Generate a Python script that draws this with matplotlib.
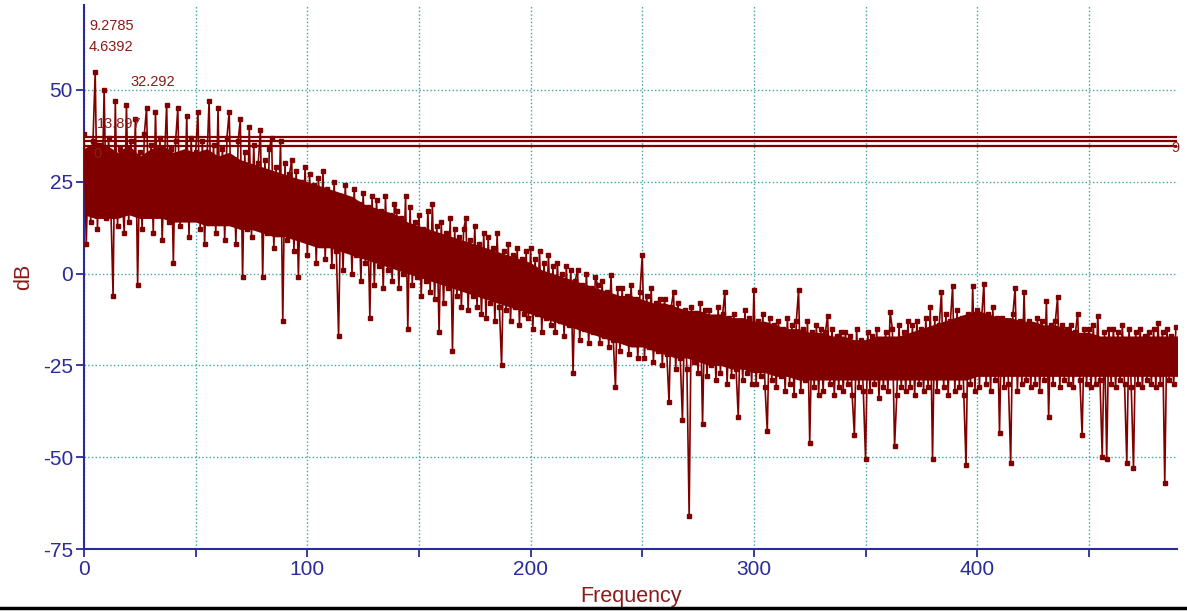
import numpy as np
import matplotlib.pyplot as plt
from matplotlib.lines import Line2D

plt.rcParams['font.family'] = ['Liberation Sans', 'DejaVu Sans']
plt.rcParams['axes.unicode_minus'] = False

# spectrum magnitude in dB, one value per Hz (0..489 Hz)
db_values = [
    38, 8, 33, 14, 36, 55, 12, 35, 20, 50,
    15, 37, 18, -6, 47, 13, 34, 22, 11, 46,
    14, 36, 19, 42, -3, 33, 12, 38, 45, 16,
    35, 11, 44, 17, 37, 9, 31, 46, 14, 34,
    3, 36, 45, 13, 32, 18, 43, 10, 37, 15,
    33, 44, 12, 36, 8, 30, 47, 16, 35, 11,
    45, 14, 34, 9, 37, 44, 17, 31, 8, 36,
    42, -1, 33, 12, 40, 10, 35, 15, 30, 39,
    -1, 31, 11, 34, 37, 7, 29, 14, 36, -13,
    30, 9, 27, 31, 6, 28, -1, 25, 10, 29,
    5, 27, 12, 24, 3, 26, 8, 28, 4, 23,
    22, 2, 25, 6, -17, 21, 1, 24, 7, 20,
    0, 23, 5, 19, -2, 22, 3, 18, -12, 21,
    -3, 20, 2, 17, -4, 21, 1, 16, -2, 19,
    17, -4, 15, 0, 21, -15, 18, -3, 14, -1,
    16, -6, 12, -2, 17, -5, 19, -7, 13, -16,
    14, -8, 11, -4, 15, -21, 12, -6, 10, -9,
    12, 15, -10, 9, -6, 13, -9, 8, -11, 11,
    -12, 10, -8, 7, -13, 11, -9, -25, 6, -10,
    8, -13, 5, -9, 7, -14, 4, -11, 6, -12,
    7, -15, 4, -11, 6, -16, 3, -12, 5, -14,
    2, -16, 3, -13, 0, -17, 2, -14, 1, -27,
    -2, 1, -18, -3, -15, 0, -19, -4, -16, -1,
    -3, -19, -2, -17, -5, -20, -0.5, -18, -31, -4,
    -21, -4, -18, -6, -22, -3, -19, -7, -23, -5,
    5, -23, -6, -20, -4, -24, -8, -21, -7, -25,
    -7, -22, -35, -9, -5, -26, -8, -23, -40, -10,
    -26, -66, -9, -24, -11, -27, -8, -41, -10, -28,
    -10, -25, -12, -29, -9, -27, -11, -5, -30, -12,
    -28, -11, -26, -39, -13, -29, -10, -27, -12, -30,
    -4.6, -30, -13, -28, -11, -31, -43, -12, -29, -14,
    -31, -13, -28, -15, -32, -12, -30, -14, -33, -13,
    -4.6, -32, -15, -29, -13, -46, -16, -31, -14, -33,
    -15, -32, -16, -11.5, -30, -15, -33, -17, -31, -16,
    -32, -16, -30, -17, -33, -44, -15, -31, -18, -32,
    -50.5, -16, -32, -17, -30, -15, -34, -18, -31, -16,
    -32, -10.5, -15, -47, -33, -14, -31, -16, -32, -13,
    -31, -14, -33, -13, -30, -15, -32, -12, -31, -9,
    -50.5, -12, -32, -14, -5, -31, -11, -33, -13, -3.5,
    -32, -10, -31, -12, -33, -52, -11, -30, -3.5, -32,
    -10, -31, -12, -2.8, -30, -11, -32, -9, -29, -12,
    -43.5, -12, -31, -13, -30, -51.5, -11, -4, -32, -13,
    -30, -5, -29, -13, -31, -14, -30, -12, -32, -13,
    -29, -7.5, -39, -14, -30, -13, -6.5, -31, -14, -29,
    -15, -30, -14, -31, -16, -11, -29, -44, -15, -30,
    -15, -31, -14, -30, -11.5, -29, -50, -16, -50.5, -15,
    -30, -15, -31, -16, -29, -14, -30, -51.5, -15, -31,
    -53, -16, -30, -15, -31, -17, -29, -16, -30, -15,
    -31, -13.5, -30, -16, -57, -15, -29, -17, -30, -14.5,
]
freq = np.arange(len(db_values))

# dense core of the trace (where the plotted points overlap into a solid band),
# read every 5 Hz from 0 to 490 Hz
band_freq = np.arange(0, 491, 5)
band_top = [
    34, 36, 35, 33, 35, 32, 34, 35, 33, 34,
    33, 34, 32, 33, 31, 30, 29, 28, 27, 26,
    25, 24, 23, 22, 21, 19, 18, 17, 16, 14,
    13, 12, 11, 10, 9, 8, 7, 6, 5, 4,
    3, 1, 0, -1, -2, -3, -4, -5, -6, -6,
    -7, -8, -8, -9, -10, -10, -11, -11, -12, -12,
    -13, -13, -14, -15, -15, -16, -16, -17, -17, -18,
    -18, -17, -17, -17, -16, -15, -14, -13, -12, -11,
    -10, -11, -12, -12, -13, -13, -14, -14, -15, -16,
    -16, -17, -17, -17, -17, -17, -17, -17, -17,
]
band_bottom = [
    16, 15, 15, 15, 16, 15, 15, 15, 14, 14,
    14, 13, 13, 13, 12, 12, 11, 10, 10, 9,
    8, 7, 7, 6, 5, 4, 3, 2, 1, 0,
    -1, -2, -3, -4, -5, -6, -7, -8, -9, -10,
    -11, -12, -13, -14, -15, -16, -17, -18, -19, -20,
    -20, -21, -22, -23, -23, -24, -25, -25, -26, -26,
    -27, -27, -28, -28, -29, -29, -29, -29, -29, -29,
    -29, -29, -29, -29, -29, -29, -29, -29, -29, -29,
    -28, -28, -28, -28, -28, -28, -28, -28, -28, -28,
    -28, -28, -28, -28, -28, -28, -28, -28, -28,
]

# cursor / reference lines
ref_levels = [37.2, 36.0, 34.8]

# marker labels: (text, freq, dB)
label_texts = ["9.2785", "4.6392", "32.292", "13.897", "0", "9"]
label_freq = [2.2, 2.2, 21.0, 5.8, 4.0, 487.0]
label_db = [67.3, 61.8, 52.2, 40.6, 32.5, 34.3]

maroon = "#800000"
navy = "#2a2a9c"
teal = "#3aa6a6"

fig = plt.figure(figsize=(11.87, 6.12), dpi=100)
ax = fig.add_axes([0.0708, 0.1029, 0.9208, 0.8889])

ax.fill_between(band_freq, band_bottom, band_top, color=maroon, lw=0,
                zorder=2)
ax.plot(freq, db_values, color=maroon, lw=1.2, marker='s', markersize=2.3,
        zorder=3)
for lv in ref_levels:
    ax.axhline(lv, color=maroon, lw=1.6, zorder=4)

for t, fx, fy in zip(label_texts, label_freq, label_db):
    ax.text(fx, fy, t, color="#8b1a1a", fontsize=10.5, va='center', ha='left',
            zorder=5, clip_on=False)

ax.set_xlim(0, 489.5)
ax.set_ylim(-75, 73.1)
ax.set_xticks(np.arange(0, 451, 50))
ax.set_xticklabels(["0", "", "100", "", "200", "", "300", "", "400", ""])
ax.set_yticks([-75, -50, -25, 0, 25, 50])

ax.grid(True, color=teal, linestyle=':', lw=1.0, zorder=1)
ax.set_axisbelow(True)

for s in ['top', 'right']:
    ax.spines[s].set_visible(False)
for s in ['left', 'bottom']:
    ax.spines[s].set_color(navy)
    ax.spines[s].set_linewidth(1.5)
ax.tick_params(colors=navy, labelsize=15, length=6, width=1.3, direction='out',
               pad=2)

ax.set_xlabel("Frequency", color="#8b1a1a", fontsize=15.5, labelpad=5)
ax.set_ylabel("dB", color="#8b1a1a", fontsize=15.5, labelpad=6)

fig.add_artist(Line2D([0, 1], [0.006, 0.006], color='black', lw=2.5,
                      transform=fig.transFigure))

fig.savefig("out.png", dpi=100)
